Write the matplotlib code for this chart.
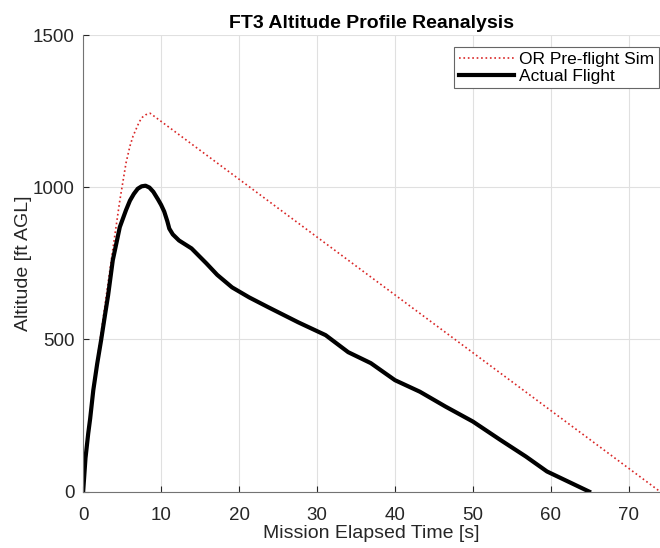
#!/usr/bin/env python3

from matplotlib import pyplot as plt

# pre-flight simulation (OpenRocket)
sim_t = [0, 0.65, 1.3, 2.3, 3.0, 3.8, 4.7, 5.5, 6.0, 6.4, 7.2, 7.6, 8.0, 8.6,
         74.0]
sim_alt = [0, 191, 340, 520, 650, 795, 956, 1080, 1135, 1168, 1215, 1230,
           1238, 1243, 0]

# actual flight
fl_t = [0, 0.3, 0.65, 0.9, 1.3, 1.8, 2.3, 2.8, 3.2, 3.8, 4.7, 5.5, 6.0, 6.5,
        7.0, 7.5, 8.0, 8.5, 9.0, 9.6, 10.0, 10.4, 10.8, 11.05, 11.5, 12.3,
        13.9, 15.8, 17.2, 19.1, 21.3, 23.8, 27.6, 31.1, 34.0, 36.9, 40.0,
        43.2, 46.5, 50.0, 53.5, 56.8, 59.5, 62.2, 64.9]
fl_alt = [0, 110, 191, 240, 333, 420, 497, 580, 645, 760, 869, 925, 956, 978,
          995, 1003, 1005, 999, 985, 960, 942, 920, 888, 864, 845, 825,
          799, 750, 712, 671, 638, 605, 556, 514, 458, 422, 366,
          328, 279, 230, 170, 115, 66, 33, 0]

xticks = [0, 10, 20, 30, 40, 50, 60, 70]
yticks = [0, 500, 1000, 1500]


def main():
    plt.rcParams['font.family'] = ['Liberation Sans', 'DejaVu Sans']
    fig = plt.figure(figsize=(6.6, 5.48), dpi=100)
    ax = fig.add_axes([0.126, 0.103, 0.874, 0.833])

    ax.plot(sim_t, sim_alt, ':', color=(0.85, 0.15, 0.15), lw=1.2,
            label="OR Pre-flight Sim")
    ax.plot(fl_t, fl_alt, '-', color='black', lw=3, label="Actual Flight")

    ax.set_xlim(0, 74)
    ax.set_ylim(0, 1500)
    ax.set_xticks(xticks)
    ax.set_yticks(yticks)
    ax.grid(True, color=(0.88, 0.88, 0.88), lw=0.8)
    ax.set_axisbelow(True)
    ax.tick_params(direction='in', labelsize=13.5, colors=(0.15, 0.15, 0.15),
                   length=4, top=False, right=False)
    ax.tick_params(axis='y', pad=6)
    ax.tick_params(axis='x', pad=11)
    for s in ['left', 'bottom']:
        ax.spines[s].set_color((0.45, 0.45, 0.45))
    for s in ['top', 'right']:
        ax.spines[s].set_visible(False)

    ax.set_xlabel("Mission Elapsed Time [s]", fontsize=14,
                  color=(0.15, 0.15, 0.15), labelpad=1)
    ax.set_ylabel("Altitude [ft AGL]", fontsize=14,
                  color=(0.15, 0.15, 0.15), labelpad=1)
    ax.set_title("FT3 Altitude Profile Reanalysis", fontsize=14,
                 fontweight='bold', pad=5)

    leg = ax.legend(loc='upper right', fontsize=12.5, fancybox=False,
                    framealpha=1, borderpad=0.25, handlelength=3.2,
                    handletextpad=0.3, labelspacing=0.1, borderaxespad=0,
                    bbox_to_anchor=(0.998, 0.973))
    leg.get_frame().set_edgecolor((0.4, 0.4, 0.4))
    leg.get_frame().set_linewidth(0.8)

    fig.savefig("out.png", dpi=100)


if __name__ == "__main__":
    main()
